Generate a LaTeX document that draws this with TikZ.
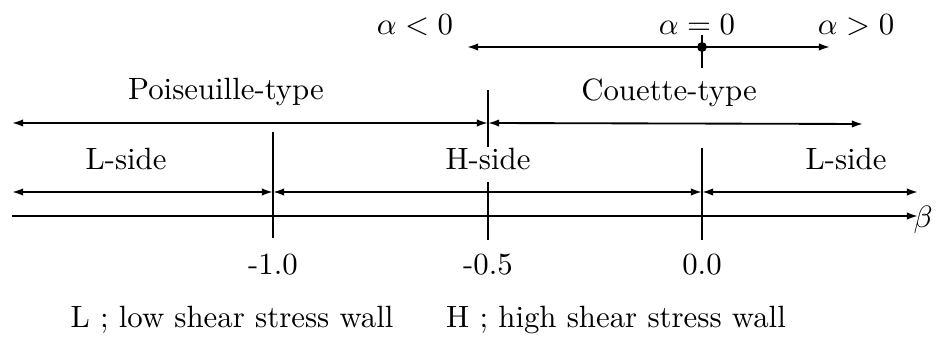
\documentclass[tikz,border=0pt]{standalone}
\usetikzlibrary{positioning, arrows.meta}
\tikzset{
  axisline/.style={line width=0.6pt},
  span/.style={
    axisline, {Latex[length=3.6pt, width=2.4pt]}-{Latex[length=3.6pt, width=2.4pt]}
  },
  ray/.style={
    axisline, -{Latex[length=3.6pt, width=2.4pt]}
  },
  tickline/.style={line width=0.6pt},
  lbl/.style={anchor=base, inner sep=0pt, font=\normalsize}
}

\begin{document}
\begin{tikzpicture}[x=0.01142cm, y=-0.01142cm]
    \useasboundingbox (0,0) rectangle (943,344);

    % ============================================================
    % ALPHA ROW
    % ============================================================
    \coordinate (aL) at (467,47);
    \coordinate (aR) at (830,47);
    \coordinate (aZero) at (702,47);
    \coordinate (aTickT) at (702,35);
    \coordinate (aTickB) at (702,68);

    \node (aneg)  [lbl] at (415,35) {$\alpha<0$};
    \node (azero) [lbl] at (697,35) {$\alpha=0$};
    \node (apos)  [lbl] at (856,35) {$\alpha>0$};

    \draw [span] (aL) -- (aR);
    \draw [tickline] (aTickT) -- (aTickB);
    \fill (aZero) circle (1.6pt);

    % ============================================================
    % FLOW TYPE ROW
    % ============================================================
    \coordinate (fL) at (12,123);
    \coordinate (fM) at (488,123);
    \coordinate (fR) at (863,124);

    \node (pois) [lbl] at (226,100) {Poiseuille-type};
    \node (coue) [lbl] at (669,101) {Couette-type};

    \draw [span] (fL) -- (fM);
    \draw [span] (fM) -- (fR);

    % ============================================================
    % WALL SIDE ROW
    % ============================================================
    \coordinate (sL)  at (12,192);
    \coordinate (sA)  at (273,192);
    \coordinate (sB)  at (702,192);
    \coordinate (sR)  at (918,192);

    \node (lside1) [lbl] at (126,170) {L-side};
    \node (hside)  [lbl] at (488,170) {H-side};
    \node (lside2) [lbl] at (846,170) {L-side};

    \draw [span] (sL) -- (sA);
    \draw [span] (sA) -- (sB);
    \draw [span] (sB) -- (sR);

    % ============================================================
    % BETA AXIS AND TICKS
    % ============================================================
    \coordinate (bL) at (12,216);
    \coordinate (bR) at (918,216);
    \draw [ray] (bL) -- (bR);
    \node (beta) [inner sep=0pt, anchor=base west] at (913,228) {$\beta$};

    \coordinate (t1T) at (273,132);  \coordinate (t1B) at (273,238);
    \coordinate (t2T) at (488,90);   \coordinate (t2M) at (488,147);
    \coordinate (t2N) at (488,182);  \coordinate (t2B) at (488,240);
    \coordinate (t3T) at (702,148);  \coordinate (t3B) at (702,240);
    \draw [tickline] (t1T) -- (t1B);
    \draw [tickline] (t2T) -- (t2M);
    \draw [tickline] (t2N) -- (t2B);
    \draw [tickline] (t3T) -- (t3B);

    \node (v1) [lbl] at (273,275) {-1.0};
    \node (v2) [lbl] at (488,275) {-0.5};
    \node (v3) [lbl] at (702,275) {0.0};

    % ============================================================
    % LEGEND
    % ============================================================
    \node (legL) [lbl] at (232,327) {L ; low shear stress wall};
    \node (legH) [lbl] at (616,327) {H ; high shear stress wall};

\end{tikzpicture}
\end{document}
